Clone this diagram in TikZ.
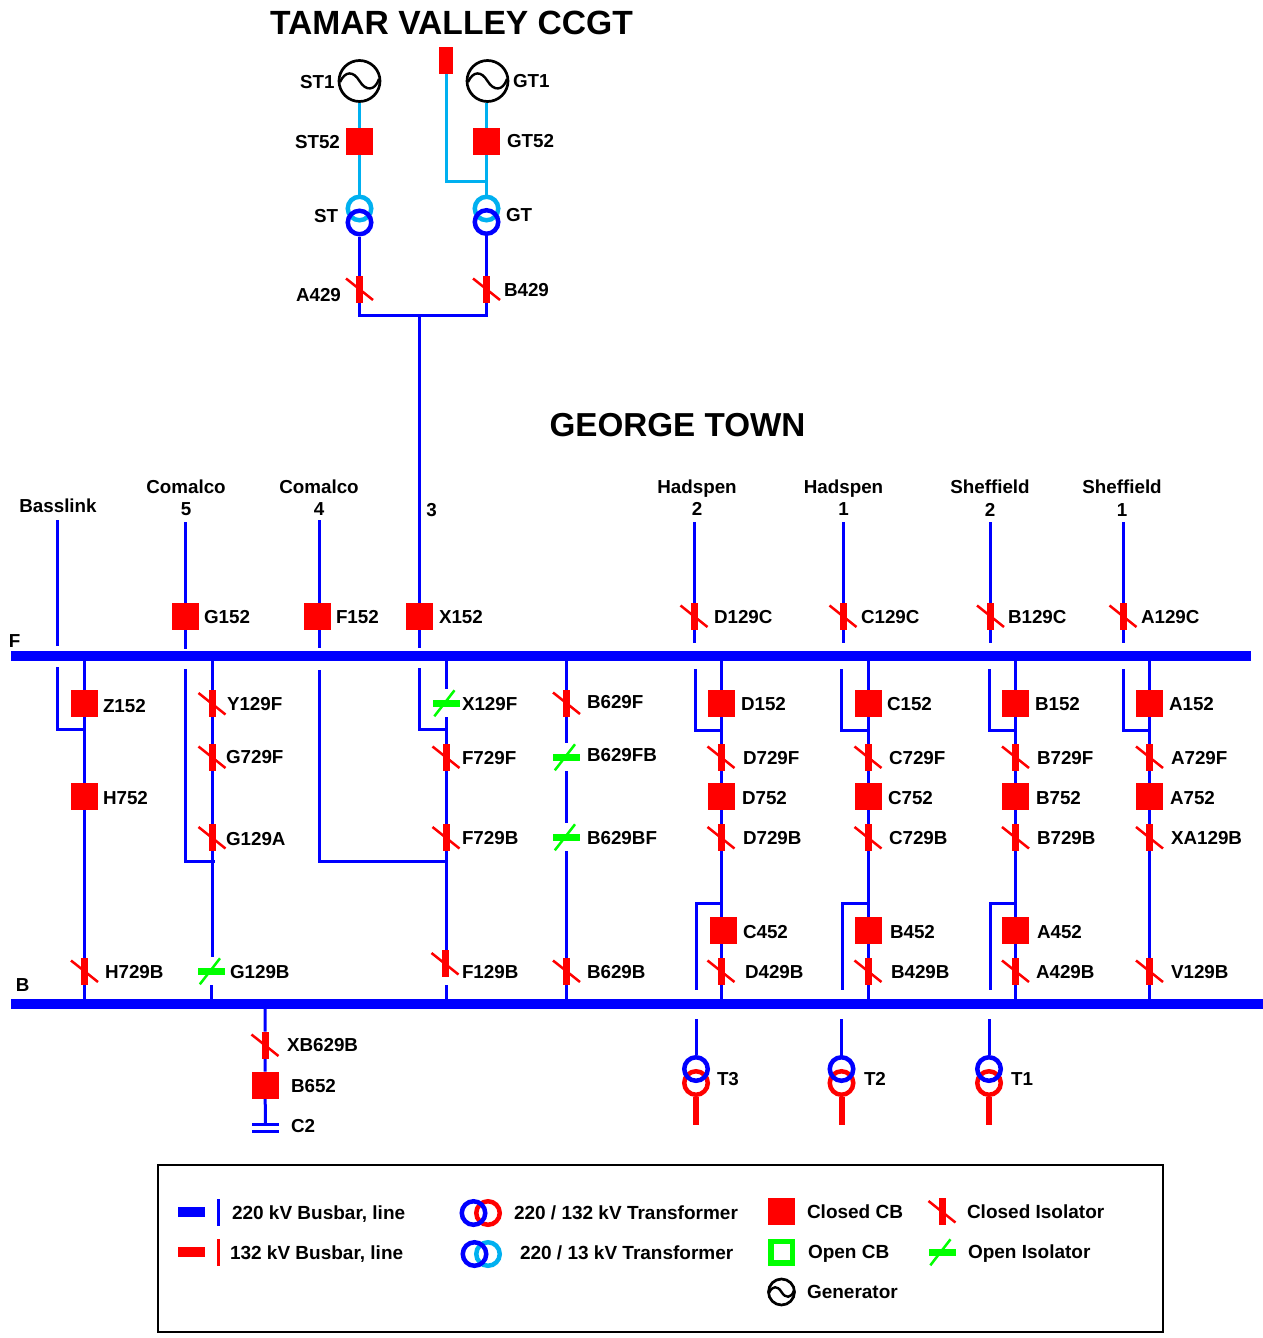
\documentclass[tikz,border=0pt]{standalone}
\usepackage{fontspec}
\setmainfont{Liberation Sans}[BoldFont={Liberation Sans Bold}]
\usetikzlibrary{backgrounds,calc}
\definecolor{lb}{RGB}{0,176,240}
\definecolor{gn}{RGB}{0,255,0}
\definecolor{rd}{RGB}{255,0,0}
\definecolor{bl}{RGB}{0,0,255}
\tikzset{
  x=1pt,y=-1pt,
  cbk/.style={rectangle,fill=rd,minimum size=27pt,inner sep=0pt,outer sep=0pt},
  cisobar/.style={rectangle,fill=rd,minimum width=7pt,minimum height=27pt,inner sep=0pt,outer sep=0pt},
  oisobox/.style={rectangle,minimum width=27pt,minimum height=28pt,inner sep=0pt,outer sep=0pt},
  cdiag/.style={draw=rd,line width=2.5pt},
  odiag/.style={draw=gn,line width=2.5pt},
  ogbar/.style={fill=gn,draw=none},
  txt/.style={font=\fontsize{18.8}{20}\selectfont\bfseries,inner sep=0pt,outer sep=0pt,anchor=west,text=black,text height=13.5pt,text depth=0pt,yshift=-0.8pt},
  lgtxt/.style={txt,font=\fontsize{19}{20}\selectfont\bfseries},
  ctxt/.style={font=\fontsize{18.8}{20}\selectfont\bfseries,inner sep=0pt,outer sep=0pt,anchor=center,text=black,text height=13.5pt,text depth=0pt,yshift=0.5pt},
  ttlk/.style={font=\fontsize{#1}{36}\selectfont\bfseries,inner sep=0pt,anchor=center,text=black,yshift=-1pt},
  genk/.style={circle,draw=black,line width=2.7pt,inner sep=0pt,fill=none},
  ring/.style={circle,line width=4.5pt,minimum size=23.5pt,inner sep=0pt,fill=none},
  busbar/.style={rectangle,fill=bl,inner sep=0pt,outer sep=0pt,minimum height=10pt},
  ln/.style={draw=bl,line width=3pt},
  lnb/.style={draw=lb,line width=3pt},
}
\newcommand{\lab}[4]{\node[txt] (#1) at (#2,#3) {#4};}
\newcommand{\lgl}[4]{\node[lgtxt] (#1) at (#2,#3) {#4};}
\newcommand{\clab}[4]{\node[ctxt] (#1) at (#2,#3) {#4};}
\newcommand{\kcb}[5]{\node[cbk] (#1) at (#2,#3) {};\lab{l#1}{#4}{#5}{#1}}
\newcommand{\kciso}[3]{\node[cisobar] (#1) at (#2,#3) {};
  \draw[cdiag,shift={(#1)}] (-13.5,-10.5) -- (13.5,11);}
\newcommand{\koiso}[3]{\node[oisobox] (#1) at (#2,#3) {};
  \fill[ogbar,shift={(#1)}] (-13.5,-3.5) rectangle (13.5,3.5);
  \draw[odiag,shift={(#1)}] (-11.7,13.3) -- (8.5,-12.7);}
\newcommand{\ci}[5]{\kciso{#1}{#2}{#3}\lab{l#1}{#4}{#5}{#1}}
\newcommand{\oi}[5]{\koiso{#1}{#2}{#3}\lab{l#1}{#4}{#5}{#1}}
\newcommand{\kgen}[4]{\node[genk,minimum size=#4*2pt] (#1) at (#2,#3) {};
  \draw[black,line width=2.4pt,shift={(#1)},scale=#4/20]
    (-19,1) .. controls (-14,-10) and (-6,-10) .. (0,0) .. controls (6,10) and (15,10) .. (19,-2);}
\begin{document}
\begin{tikzpicture}
\useasboundingbox (0,0) rectangle (1263,1338);
% titles
\node[ttlk=33.6] (title1) at (451.5,22) {TAMAR VALLEY CCGT};
\node[ttlk=33.2] (title2) at (677.5,424) {GEORGE TOWN};
% busbars
\node[busbar,minimum width=1240pt] (busF) at (631,656) {};
\node[busbar,minimum width=1252pt] (busB) at (637,1004) {};
\lab{lF}{9}{640}{F}
\lab{lB}{16}{984}{B}
% Tamar valley
\kgen{ST1}{359.5}{81}{20.5}
\kgen{GT1}{487.5}{81}{20.5}
\lab{lST1}{300}{81}{ST1}
\lab{lGT1}{513}{80}{GT1}
\kcb{ST52}{359.5}{141.5}{295}{141}
\kcb{GT52}{486.5}{141.5}{507}{140}
\node[ring,draw=lb] (STa) at (359.5,208.5) {};
\node[ring,draw=bl] (STb) at (359.5,222.5) {};
\node[ring,draw=lb] (GTa) at (486.5,208.5) {};
\node[ring,draw=bl] (GTb) at (486.5,222) {};
\lab{lST}{314}{215}{ST}
\lab{lGT}{506}{214}{GT}
\node[rectangle,fill=rd,minimum width=14pt,minimum height=27pt,inner sep=0pt,outer sep=0pt] (GTaux) at (446,60.5) {};
\coordinate (GTj) at (486.5,181);
\ci{A429}{359.5}{289}{296}{294}
\ci{B429}{486.5}{289}{504}{289}
\coordinate (TVj) at (419.5,315);
% feeders above F
\coordinate (tBass) at (57,520);
\coordinate (tCom5) at (185,522);
\coordinate (tCom4) at (319,520);
\coordinate (tHad2) at (694,522);
\coordinate (tHad1) at (843,522);
\coordinate (tShe2) at (990.5,522);
\coordinate (tShe1) at (1123,522);
\coordinate (eBass) at (57,646);
\coordinate (eX) at (419.5,648);
\kcb{G152}{185}{616}{204}{616}
\kcb{F152}{317.5}{616}{336}{616}
\kcb{X152}{419.5}{616}{439}{616}
\ci{D129C}{694}{616}{714}{616}
\ci{C129C}{843}{616}{861}{616}
\ci{B129C}{990.5}{616}{1008}{616}
\ci{A129C}{1123}{616}{1141}{616}
\coordinate (eHad2) at (694,643);
\coordinate (eHad1) at (843,643);
\coordinate (eShe2) at (990.5,643);
\coordinate (eShe1) at (1123,643);
\coordinate (eCom5) at (185,649);
\coordinate (eCom4) at (319,648);
\clab{nBass}{58}{506}{Basslink}
\clab{nCom5}{186}{487.5}{Comalco}
\clab{vCom5}{186}{509.5}{5}
\clab{nCom4}{319}{487.5}{Comalco}
\clab{vCom4}{319}{509.5}{4}
\clab{v3}{431.5}{510.5}{3}
\clab{nHad2}{697}{487}{Hadspen}
\clab{vHad2}{697}{509.5}{2}
\clab{nHad1}{843.5}{487.5}{Hadspen}
\clab{vHad1}{843.5}{509.5}{1}
\clab{nShe2}{990}{487.5}{Sheffield}
\clab{vShe2}{990}{510}{2}
\clab{nShe1}{1122}{487.5}{Sheffield}
\clab{vShe1}{1122}{510}{1}
% under-bus stubs
\coordinate (uBass) at (57,667);
\coordinate (jBassA) at (57,729);
\coordinate (jBassB) at (84.5,729);
\coordinate (uCom5) at (185,669);
\coordinate (jCom5A) at (185,861);
\coordinate (jCom5B) at (215,861);
\coordinate (uCom4) at (319,670);
\coordinate (jCom4A) at (319,861);
\coordinate (jCom4B) at (446,861);
\coordinate (uX) at (419.5,668);
\coordinate (jXA) at (419.5,729);
\coordinate (jXB) at (446,729);
\coordinate (uHad2) at (695,669);
\coordinate (jHad2A) at (695,730);
\coordinate (jHad2B) at (721,730);
\coordinate (uHad1) at (841.5,669);
\coordinate (jHad1A) at (841.5,730);
\coordinate (jHad1B) at (868,730);
\coordinate (uShe2) at (989,669);
\coordinate (jShe2A) at (989,730);
\coordinate (jShe2B) at (1015.5,730);
\coordinate (uShe1) at (1123,669);
\coordinate (jShe1A) at (1123,730);
\coordinate (jShe1B) at (1149.5,730);
% column Z/H
\kcb{Z152}{84.5}{703.5}{103}{705}
\kcb{H752}{84.5}{796}{103}{797}
\ci{H729B}{84.5}{971}{105}{971}
% column G
\ci{Y129F}{212}{703.5}{227}{703}
\ci{G729F}{212}{757}{226}{756}
\ci{G129A}{212}{837.5}{226}{838}
\oi{G129B}{211.5}{971}{230}{971}
\coordinate (sG) at (211.5,985);
% column X/F
\oi{X129F}{446}{703}{462}{703}
\ci{F729F}{446}{757}{462}{757}
\ci{F729B}{446}{837.5}{462}{837}
\ci{F129B}{445}{963.5}{462}{971}
\coordinate (sF) at (446,985);
% column B629
\ci{B629F}{566.5}{703}{587}{701}
\oi{B629FB}{566.5}{757}{587}{754}
\oi{B629BF}{566.5}{837}{587}{837}
\ci{B629B}{566.5}{971}{587}{971}
% column D
\kcb{D152}{721}{703.5}{741}{703}
\ci{D729F}{721}{757}{743}{757}
\kcb{D752}{721}{796.5}{742}{797}
\ci{D729B}{721}{837.5}{743}{837}
\coordinate (jT3A) at (721,903);
\coordinate (jT3B) at (696,903);
\coordinate (eT3) at (696,990);
\kcb{C452}{723.5}{930.5}{743}{931}
\ci{D429B}{721}{971}{745}{971}
% column C
\kcb{C152}{868}{703.5}{887}{703}
\ci{C729F}{868}{757}{889}{757}
\kcb{C752}{868}{796.5}{888}{797}
\ci{C729B}{868}{837.5}{889}{837}
\coordinate (jT2A) at (868,903);
\coordinate (jT2B) at (842,903);
\coordinate (eT2) at (842,990);
\kcb{B452}{868}{930.5}{890}{931}
\ci{B429B}{868}{971}{891}{971}
% column B
\kcb{B152}{1015.5}{703.5}{1035}{703}
\ci{B729F}{1015.5}{757}{1037}{757}
\kcb{B752}{1015.5}{796.5}{1036}{797}
\ci{B729B}{1015.5}{837.5}{1037}{837}
\coordinate (jT1A) at (1015.5,903);
\coordinate (jT1B) at (990,903);
\coordinate (eT1) at (990,990);
\kcb{A452}{1015.5}{930.5}{1037}{931}
\ci{A429B}{1015.5}{971}{1036}{971}
% column A
\kcb{A152}{1149.5}{703.5}{1169}{703}
\ci{A729F}{1149.5}{757}{1171}{757}
\kcb{A752}{1149.5}{796.5}{1170}{797}
\ci{XA129B}{1149.5}{837.5}{1171}{837}
\ci{V129B}{1149.5}{971}{1171}{971}
% capacitor bank
\ci{XB629B}{265}{1045}{287}{1044}
\kcb{B652}{265}{1085}{291}{1085}
\node[rectangle,fill=bl,minimum width=27pt,minimum height=2.8pt,inner sep=0pt,outer sep=0pt] (cap1) at (265.5,1124.5) {};
\node[rectangle,fill=bl,minimum width=27pt,minimum height=2.8pt,inner sep=0pt,outer sep=0pt] (cap2) at (265.5,1131.5) {};
\lab{lC2}{291}{1125}{C2}
% transformers
\foreach \n/\x/\lx in {T3/696/717,T2/841.5/864,T1/989/1011}{
  \node[ring,draw=rd] (\n r) at (\x,1083) {};
  \node[ring,draw=bl] (\n b) at (\x,1069) {};
  \coordinate (\n u) at (\x,1019);
  \coordinate (\n e) at (\x,1125);
  \lab{l\n}{\lx}{1078}{\n}
}
% legend
\node[rectangle,draw=black,line width=2.5pt,minimum width=1005pt,minimum height=167pt,inner sep=0pt] (legend) at (660.5,1248.5) {};
\node[rectangle,fill=bl,minimum width=27pt,minimum height=10pt,inner sep=0pt] (lgbb) at (191.5,1212) {};
\node[rectangle,fill=bl,minimum width=2.5pt,minimum height=27pt,inner sep=0pt] (lgbl) at (218.5,1212) {};
\node[rectangle,fill=rd,minimum width=27pt,minimum height=10pt,inner sep=0pt] (lgrb) at (191.5,1252) {};
\node[rectangle,fill=rd,minimum width=2.5pt,minimum height=27pt,inner sep=0pt] (lgrl) at (218.5,1252) {};
\lgl{lg1}{232}{1211.5}{220 kV Busbar, line}
\lgl{lg2}{230}{1251.5}{132 kV Busbar, line}
\node[ring,draw=rd] (lgt1r) at (488,1213) {};
\node[ring,draw=bl] (lgt1b) at (473.5,1213) {};
\node[ring,draw=lb] (lgt2r) at (488,1254) {};
\node[ring,draw=bl] (lgt2b) at (474.5,1254) {};
\lgl{lg3}{514}{1211.5}{220 / 132 kV Transformer}
\lgl{lg4}{520}{1251.5}{220 / 13 kV Transformer}
\node[cbk] (lgcb) at (781.5,1211.5) {};
\node[rectangle,draw=gn,line width=5.5pt,minimum size=21.5pt,inner sep=0pt,fill=none] (lgob) at (781.5,1252) {};
\kgen{lggen}{781.5}{1292}{13}
\lgl{lg5}{807}{1210.5}{Closed CB}
\lgl{lg6}{808}{1251}{Open CB}
\lgl{lg7}{807}{1291}{Generator}
\kciso{lgci}{942}{1211.5}
\koiso{lgoi}{942}{1252}
\lgl{lg8}{967}{1211}{Closed Isolator}
\lgl{lg9}{968}{1251}{Open Isolator}
% connectors
\begin{pgfonlayer}{background}
\draw[lnb] (ST1) -- (ST52) -- (STa);
\draw[lnb] (GT52 |- GT1.south) -- (GT52) -- (GTa);
\draw[lnb] (GTaux) |- (GTj);
\draw[ln] (STb) -- (A429);
\draw[ln] (GTb) -- (B429);
\draw[ln] (A429) |- (B429.south |- TVj) -- (B429);
\draw[ln] (TVj) -- (X152) -- (eX);
\draw[ln] (tBass) -- (eBass);
\draw[ln] (tCom5) -- (G152) -- (eCom5);
\draw[ln] (tCom4) -- (tCom4 |- F152.north);
\draw[ln] (tCom4 |- F152.south) -- (eCom4);
\draw[ln] (tHad2) -- (D129C) -- (eHad2);
\draw[ln] (tHad1) -- (C129C) -- (eHad1);
\draw[ln] (tShe2) -- (B129C) -- (eShe2);
\draw[ln] (tShe1) -- (A129C) -- (eShe1);
\draw[ln] (uBass) -- (jBassA) -- (jBassB);
\draw[ln] (uCom5) -- (jCom5A) -- (jCom5B);
\draw[ln] (uCom4) -- (jCom4A) -- (jCom4B);
\draw[ln] (uX) -- (jXA) -- (jXB);
\draw[ln] (uHad2) -- (jHad2A) -- (jHad2B);
\draw[ln] (uHad1) -- (jHad1A) -- (jHad1B);
\draw[ln] (uShe2) -- (jShe2A) -- (jShe2B);
\draw[ln] (uShe1) -- (jShe1A) -- (jShe1B);
\draw[ln] (busF.south -| Z152) -- (Z152) -- (H752) -- (H729B) -- (H729B |- busB.north);
\draw[ln] (busF.south -| Y129F) -- (Y129F) -- (G729F) -- (G129A);
\draw[ln] (G129A) -- (G129A |- G129B.north);
\draw[ln] (sG) -- (sG |- busB.north);
\draw[ln] (busF.south -| X129F) -- (X129F) -- (F729F) -- (F729B);
\draw[ln] (F729B) -- (F729B |- F129B.north);
\draw[ln] (sF) -- (sF |- busB.north);
\draw[ln] (busF.south -| B629F) -- (B629F) -- (B629FB) -- (B629BF) -- (B629B) -- (B629B |- busB.north);
\draw[ln] (busF.south -| D152) -- (D152) -- (D729F) -- (D752) -- (D729B);
\draw[ln] (D729B) -- (D729B |- C452.north);
\draw[ln] (D429B |- C452.south) -- (D429B) -- (D429B |- busB.north);
\draw[ln] (busF.south -| C152) -- (C152) -- (C729F) -- (C752) -- (C729B) -- (B452) -- (B429B) -- (B429B |- busB.north);
\draw[ln] (busF.south -| B152) -- (B152) -- (B729F) -- (B752) -- (B729B) -- (A452) -- (A429B) -- (A429B |- busB.north);
\draw[ln] (busF.south -| A152) -- (A152) -- (A729F) -- (A752) -- (XA129B) -- (V129B) -- (V129B |- busB.north);
\draw[ln] (jT3A) -- (jT3B) -- (eT3);
\draw[ln] (jT2A) -- (jT2B) -- (eT2);
\draw[ln] (jT1A) -- (jT1B) -- (eT1);
\draw[ln] (busB.south -| XB629B) -- (XB629B) -- (B652) -- (cap1);
\foreach \n in {T3,T2,T1}{
  \draw[ln] (\n u) -- (\n b);
  \draw[draw=rd,line width=6pt] (\n r) -- (\n e);
}
\end{pgfonlayer}
\end{tikzpicture}
\end{document}
